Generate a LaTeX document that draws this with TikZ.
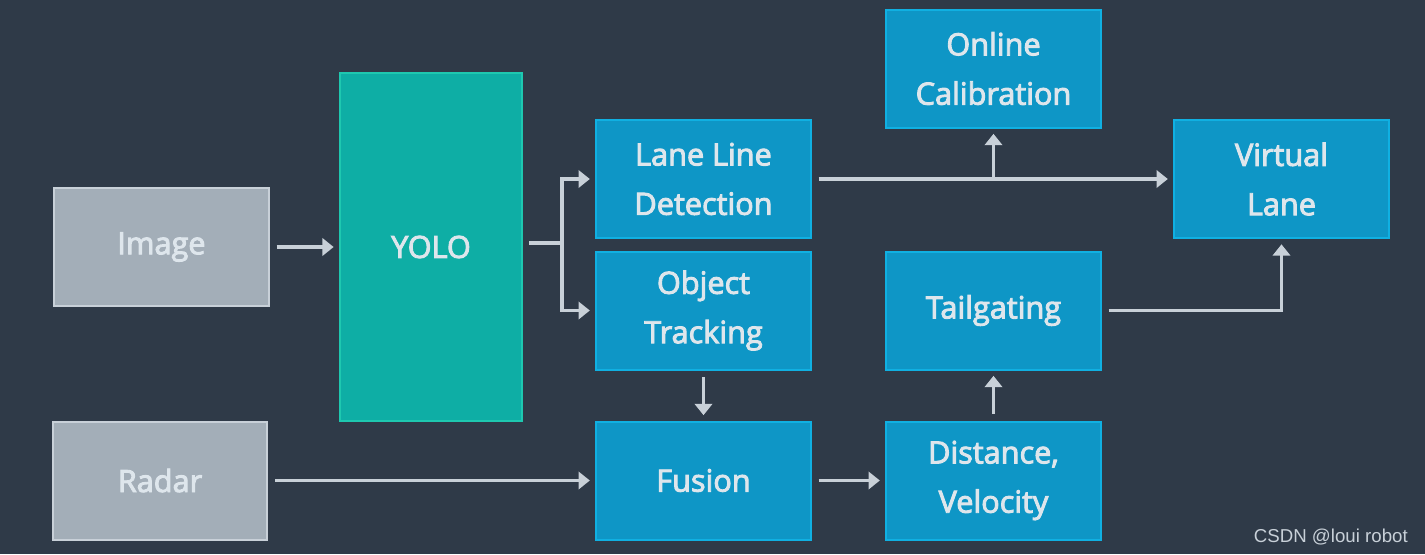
\documentclass[tikz,border=0pt]{standalone}
\usepackage{fontspec}
\setmainfont{Open Sans}
\newfontfamily\boxfont{Open Sans}[FakeBold=3]
\newfontfamily\markfont{Liberation Sans}
\usetikzlibrary{arrows.meta}
\definecolor{bgdark}{RGB}{47,58,72}
\definecolor{grayfill}{RGB}{163,174,184}
\definecolor{grayedge}{RGB}{200,208,216}
\definecolor{tealfill}{RGB}{14,174,165}
\definecolor{tealedge}{RGB}{30,200,176}
\definecolor{bluefill}{RGB}{14,150,198}
\definecolor{blueedge}{RGB}{16,176,226}
\definecolor{boxtext}{RGB}{222,230,236}
\definecolor{arrowgray}{RGB}{200,208,216}
\tikzset{
  inbox/.style={draw=grayedge, fill=grayfill, line width=1.5pt, minimum width=161pt, minimum height=88.5pt, text=boxtext, font=\boxfont\fontsize{23}{37}\selectfont, align=center},
  stepbox/.style={draw=blueedge, fill=bluefill, line width=1.5pt, minimum width=161pt, minimum height=88.5pt, text=boxtext, font=\boxfont\fontsize{23}{37}\selectfont, align=center},
  flow/.style={draw=arrowgray, line width=2.4pt, -{Triangle[length=8.5pt,width=13pt]}, shorten >=4pt, shorten <=5pt},
  plain/.style={draw=arrowgray, line width=2.4pt}
}
\begin{document}
\begin{tikzpicture}[x=0.75pt,y=0.75pt,yscale=-1,xscale=1]
%Background
\fill[bgdark] (0,0) rectangle (1425,554);
\useasboundingbox (0,0) rectangle (1425,554);

%Inputs
\node[inbox] (image) at (161.5,247) {Image};
\node[inbox] (radar) at (160,480.5) {Radar};
%Detector
\node[draw=tealedge, fill=tealfill, line width=1.5pt, minimum width=136.5pt, minimum height=261pt, text=boxtext, font=\boxfont\fontsize{23}{37}\selectfont] (yolo) at (431,247) {YOLO};
%Middle column
\node[stepbox] (lane) at (703.5,179) {Lane Line\\Detection};
\node[stepbox] (track) at (703.5,310.5) {Object\\Tracking};
\node[stepbox] (fusion) at (703.5,480.5) {Fusion};
%Right columns
\node[stepbox] (calib) at (993.5,68.5) {Online\\Calibration};
\node[stepbox] (tail) at (993.5,310.5) {Tailgating};
\node[stepbox] (dist) at (993.5,480.5) {Distance,\\Velocity};
\node[stepbox] (virtual) at (1281.5,179) {Virtual\\Lane};

%Connectors
\draw[flow] (image) -- (yolo);
\coordinate (split) at (562,243);
\draw[plain, shorten <=4.5pt] (yolo.east |- split) -- (split);
\draw[flow, shorten <=0pt] (split) |- (lane.west);
\draw[flow, shorten <=0pt] (split) |- (track.west);
\draw[flow] (lane) -- (virtual);
\draw[flow, shorten <=0pt] (calib.south |- lane.east) -- (calib.south);
\draw[flow] (track) -- (fusion);
\draw[flow] (radar) -- (fusion);
\draw[flow] (fusion) -- (dist);
\draw[flow] (dist) -- (tail);
\draw[flow] (tail.east) -| (virtual.south);

%Watermark
\node[text=grayedge, font=\markfont\fontsize{14}{16}\selectfont, anchor=east, inner sep=0pt] (mark) at (1408,537) {CSDN @loui robot};

\end{tikzpicture}
\end{document}
